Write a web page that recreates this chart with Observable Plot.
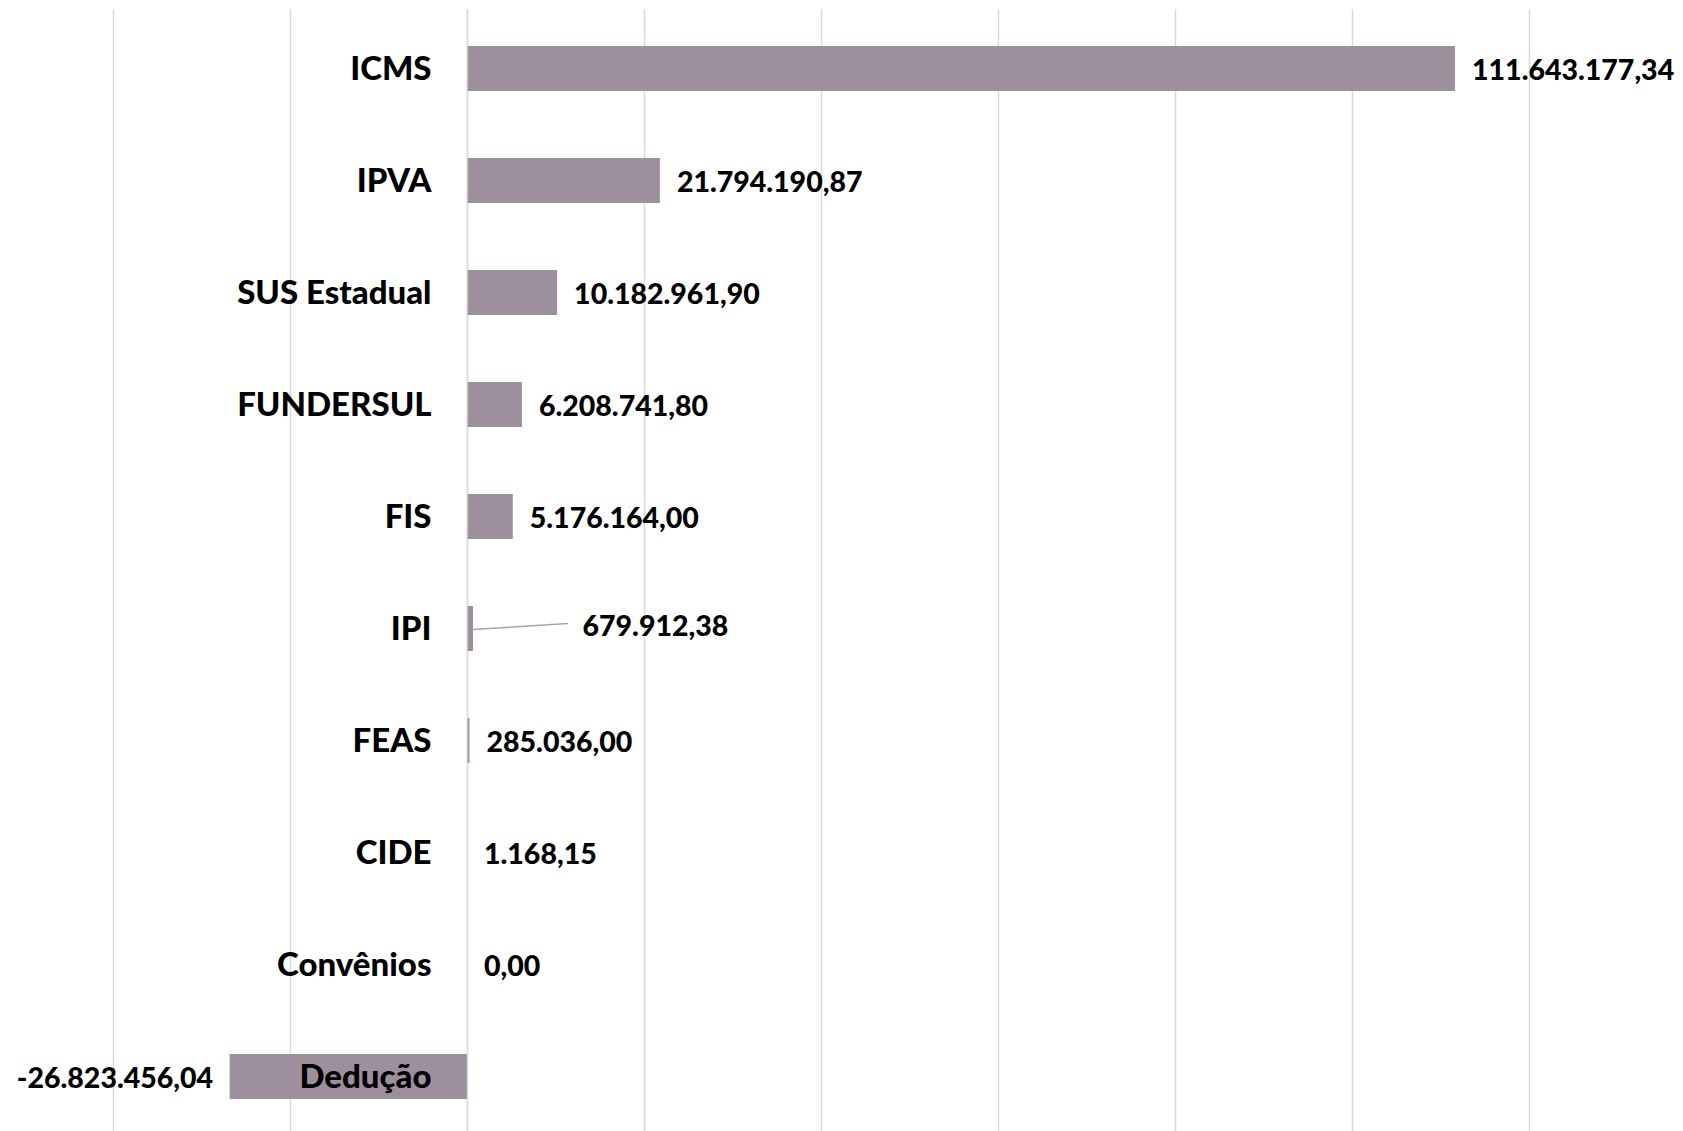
<!DOCTYPE html>
<html>
<head>
<meta charset="utf-8">
<script src="https://cdn.jsdelivr.net/npm/d3@7"></script>
<script src="https://cdn.jsdelivr.net/npm/@observablehq/plot@0.6"></script>
<style>
  html, body { margin: 0; padding: 0; background: #fff; }
  #chart svg { display: block; }
</style>
</head>
<body>
<div id="chart"></div>
<script>
const categories = ["ICMS", "IPVA", "SUS Estadual", "FUNDERSUL", "FIS", "IPI", "FEAS", "CIDE", "Convênios", "Dedução"];
const values = [111643177.34, 21794190.87, 10182961.90, 6208741.80, 5176164.00, 679912.38, 285036.00, 1168.15, 0.00, -26823456.04];
const valueLabels = ["111.643.177,34", "21.794.190,87", "10.182.961,90", "6.208.741,80", "5.176.164,00", "679.912,38", "285.036,00", "1.168,15", "0,00", "-26.823.456,04"];
const xTicks = [-40e6, -20e6, 0, 20e6, 40e6, 60e6, 80e6, 100e6, 120e6];

const data = categories.map((name, i) => ({name, value: values[i], label: valueLabels[i]}));

const barColor = "#9d8f9e";
const font = "Lato, 'Open Sans', sans-serif";
const fsCat = 33;
const fsVal = 28.5;
const weight = 900;

const leader = (index, scales) => {
  const d = data.find(r => r.name === "IPI");
  const x = scales.x, y = scales.y;
  const bw = y.bandwidth ? y.bandwidth() : 0;
  const cy = y(d.name) + bw / 2;
  const x0 = x(d.value);
  return d3.create("svg:path")
    .attr("d", `M${x0},${cy + 1}L${x0 + 95},${cy - 5}`)
    .attr("stroke", "#a6a6a6")
    .attr("stroke-width", 1.5)
    .attr("fill", "none")
    .node();
};

const chart = Plot.plot({
  width: 1683,
  height: 1131,
  marginTop: 9,
  marginBottom: 0,
  marginLeft: 0,
  marginRight: 0,
  style: {fontFamily: font, background: "#fff"},
  x: {domain: [-40e6, 120e6], range: [113, 1529], axis: null},
  y: {domain: categories, range: [10, 1135], paddingInner: 0.6, paddingOuter: 0.3, axis: null},
  marks: [
    Plot.ruleX(xTicks, {stroke: "#d9d9d9", strokeWidth: 1.5}),
    Plot.barX(data, {x: "value", y: "name", fill: barColor}),
    Plot.ruleX([0], {stroke: "#d9d9d9", strokeWidth: 1.5, strokeOpacity: 0.6}),
    leader,
    Plot.text(data, {x: () => 0, y: "name", text: "name", textAnchor: "end", dx: -36,
      fontSize: fsCat, fontWeight: weight, fill: "#000"}),
    Plot.text(data.filter(d => d.value >= 0 && d.name !== "IPI"), {x: "value", y: "name", text: "label",
      textAnchor: "start", dx: 16.5, dy: 1.5, fontSize: fsVal, fontWeight: weight, fill: "#000"}),
    Plot.text(data.filter(d => d.name === "IPI"), {x: "value", y: "name", text: "label",
      textAnchor: "start", dx: 109, dy: -2.5, fontSize: fsVal, fontWeight: weight, fill: "#000"}),
    Plot.text(data.filter(d => d.value < 0), {x: "value", y: "name", text: "label",
      textAnchor: "end", dx: -17, dy: 1.5, fontSize: fsVal, fontWeight: weight, fill: "#000"})
  ]
});

document.getElementById("chart").appendChild(chart);
</script>
</body>
</html>
